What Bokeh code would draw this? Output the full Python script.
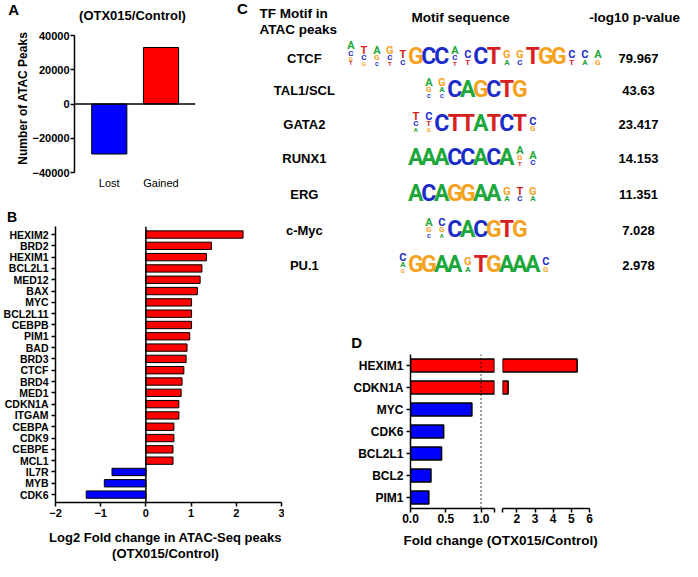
import math
import numpy as np
from bokeh.plotting import figure
from bokeh.models import Range1d, FixedTicker, Span, ColumnDataSource
from bokeh.layouts import row, column
from bokeh.core.properties import value
from bokeh.embed import file_html
from bokeh.resources import INLINE

# ---------------- data ----------------
a_groups = ["Lost", "Gained"]
a_peaks = [-29200, 33000]
a_yticks = [-40000, -20000, 0, 20000, 40000]

b_genes = ["HEXIM2", "BRD2", "HEXIM1", "BCL2L1", "MED12", "BAX", "MYC", "BCL2L11",
           "CEBPB", "PIM1", "BAD", "BRD3", "CTCF", "BRD4", "MED1", "CDKN1A", "ITGAM",
           "CEBPA", "CDK9", "CEBPE", "MCL1", "IL7R", "MYB", "CDK6"]
b_log2fc = [2.15, 1.45, 1.34, 1.24, 1.20, 1.14, 1.01, 1.01, 1.01, 0.97, 0.91, 0.89,
            0.84, 0.80, 0.78, 0.73, 0.73, 0.62, 0.62, 0.60, 0.60, -0.75, -0.92, -1.32]
b_xticks = [-2, -1, 0, 1, 2, 3]

c_tfs = ["CTCF", "TAL1/SCL", "GATA2", "RUNX1", "ERG", "c-Myc", "PU.1"]
c_pvalues = ["79.967", "43.63", "23.417", "14.153", "11.351", "7.028", "2.978"]
c_motif_ctcf = ["ACGT", "TCG", "AGC", "GCT", "TC", "G", "C", "C", "ACT", "CT",
                "C", "T", "GA", "GC", "T", "G", "G", "CT", "CA", "AG"]
c_motif_tal1 = ["AGC", "GAC", "C", "A", "G", "C", "T", "G"]
c_motif_gata2 = ["TCA", "CTG", "C", "T", "T", "A", "T", "C", "T", "CG"]
c_motif_runx1 = ["A", "A", "A", "C", "C", "A", "C", "A", "AGT", "AC"]
c_motif_erg = ["A", "C", "A", "G", "G", "A", "A", "GA", "TC", "GA"]
c_motif_myc = ["AGC", "CGA", "C", "A", "C", "G", "T", "G"]
c_motif_pu1 = ["CAG", "G", "G", "A", "A", "GA", "T", "G", "A", "A", "A", "CG"]
c_motifs = [c_motif_ctcf, c_motif_tal1, c_motif_gata2, c_motif_runx1,
            c_motif_erg, c_motif_myc, c_motif_pu1]

d_genes = ["HEXIM1", "CDKN1A", "MYC", "CDK6", "BCL2L1", "BCL2", "PIM1"]
d_fold = [5.32, 1.52, 0.87, 0.47, 0.44, 0.29, 0.26]
d_ticks_low = [0.0, 0.5, 1.0]
d_ticks_high = [2, 3, 4, 5, 6]

# ---------------- style ----------------
FONT = "Liberation Sans"
LOGO_FONT = "Roboto"
RED = "#FF0000"
BLUE = "#0000FF"
LOGO_COL = {"A": "#1EA83C", "C": "#1C2DC8", "G": "#F5A31F", "T": "#D81E1E"}
SX, SY = 0.977, 0.972  # reference px -> content px
TOP_H = 210            # height of the top band (A | C upper part)


def mk(w, h, fl, fr, ft, fb, xr, yr, **kw):
    p = figure(width=w, height=h, x_range=Range1d(*xr), y_range=Range1d(*yr),
               output_backend="svg", toolbar_location=None,
               min_border_left=fl, min_border_right=w - fr,
               min_border_top=ft, min_border_bottom=h - fb, **kw)
    p.frame_align = False
    p.outline_line_color = None
    p.grid.visible = False
    p.background_fill_color = "white"
    p.border_fill_color = "white"
    fx = lambda px: xr[0] + (px - fl) * (xr[1] - xr[0]) / (fr - fl)
    fy = lambda py: yr[1] + (py - ft) * (yr[0] - yr[1]) / (fb - ft)
    return p, fx, fy


def strip(w, h):
    return mk(w, h, 0, w, 0, h, (0, w), (0, h), x_axis_type=None, y_axis_type=None)


def style_axis(ax, size, bold=True, tick_out=4, standoff=2):
    ax.axis_line_color = "black"
    ax.axis_line_width = 1.5
    ax.major_tick_line_color = "black"
    ax.major_tick_line_width = 1.5
    ax.major_tick_in = 0
    ax.major_tick_out = tick_out
    ax.minor_tick_line_color = None
    ax.major_label_text_font = FONT
    ax.major_label_text_font_size = f"{size}px"
    ax.major_label_text_font_style = "bold" if bold else "normal"
    ax.major_label_text_color = "black"
    ax.major_label_standoff = standoff


def txt(p, fx, fy, pts, texts, size, bold=True, align="center", angle=0.0):
    p.text(x=[fx(a) for a, b in pts], y=[fy(b) for a, b in pts], text=texts,
           text_align=align, text_baseline="middle", angle=angle,
           text_font=value(FONT), text_font_size=f"{size}px",
           text_font_style="bold" if bold else "normal", text_color="black")


# ---------------- Panel A ----------------
pAt, fx, fy = strip(232, 28)
txt(pAt, fx, fy, [(7.8, 8.7)], ["A"], 15, align="left")
txt(pAt, fx, fy, [(132, 14.6)], ["(OTX015/Control)"], 13)

AH = TOP_H - 28
pAy, fx, fy = strip(29, AH)
txt(pAy, fx, fy, [(22.5, 69.7)], ["Number of ATAC Peaks"], 12, angle=math.pi / 2)

a_x = [i + 1 for i in range(len(a_groups))]
pA, fxA, fyA = mk(203, AH, 39, 166, 7, 144, (0.328, 2.667), (-40000, 40000))
srcA = ColumnDataSource(dict(x=a_x, top=a_peaks,
                             color=[BLUE if v < 0 else RED for v in a_peaks]))
pA.vbar(x="x", top="top", bottom=0, width=0.68, source=srcA, fill_color="color",
        line_color="black", line_width=1)
pA.add_layout(Span(location=0, dimension="width", line_color="black", line_width=1.5))
style_axis(pA.yaxis[0], 11, tick_out=4, standoff=1)
pA.yaxis.ticker = FixedTicker(ticks=a_yticks)
style_axis(pA.xaxis[0], 11, bold=False, tick_out=0, standoff=4)
pA.xaxis.axis_line_color = None
pA.xaxis.major_tick_line_color = None
pA.xaxis.ticker = FixedTicker(ticks=a_x)
pA.xaxis.major_label_overrides = {x: g for x, g in zip(a_x, a_groups)}

# ---------------- Panel B ----------------
pBt, fx, fy = strip(284, 14)
txt(pBt, fx, fy, [(6.5, 6.0)], ["B"], 14, align="left")

nb = len(b_genes)
b_y = [nb - 1 - i for i in range(nb)]
pB, fxB, fyB = mk(284, 300, 55, 281, 2, 278, (-2, 3), (-0.70, 23.71))
srcB = ColumnDataSource(dict(y=b_y, right=b_log2fc,
                             color=[BLUE if v < 0 else RED for v in b_log2fc]))
pB.hbar(y="y", right="right", left=0, height=0.65, source=srcB, fill_color="color",
        line_color="black", line_width=1)
pB.add_layout(Span(location=0, dimension="height", line_color="black", line_width=1.5))
style_axis(pB.xaxis[0], 11, tick_out=4, standoff=2)
pB.xaxis.ticker = FixedTicker(ticks=b_xticks)
style_axis(pB.yaxis[0], 10.5, tick_out=4, standoff=3)
pB.yaxis.ticker = FixedTicker(ticks=b_y)
pB.yaxis.major_label_overrides = {y: g for y, g in zip(b_y, b_genes)}

pBx, fx, fy = strip(284, 37)
txt(pBx, fx, fy, [(165, 12.5), (165, 28.5)],
    ["Log2 Fold change in ATAC-Seq peaks", "(OTX015/Control)"], 13)

# ---------------- Panel C ----------------
c_row_ref_y = [60, 93, 128, 163, 200, 237, 273]
COLW = 13.0
MID = 0.355  # cap centre above baseline, in em


def draw_c(p, fx, fy, rows, ox, oy):
    sx = lambda rx: SX * rx - ox
    sy = lambda ry: SY * ry - oy
    txt(p, fx, fy, [(sx(311), sy(c_row_ref_y[r])) for r in rows],
        [c_tfs[r] for r in rows], 13)
    txt(p, fx, fy, [(sx(653), sy(c_row_ref_y[r])) for r in rows],
        [c_pvalues[r] for r in rows], 13)
    xs, ys, ts, cs, fs = [], [], [], [], []
    for r in rows:
        motif = c_motifs[r]
        n = len(motif)
        x0 = sx(485) - n * COLW / 2
        base = sy(c_row_ref_y[r] + 6.5)
        for i, pos in enumerate(motif):
            xc = x0 + (i + 0.5) * COLW
            if len(pos) == 1:
                xs.append(fx(xc)); ys.append(fy(base - MID * 23)); ts.append(pos)
                cs.append(LOGO_COL[pos]); fs.append("23px")
            else:
                sizes = [11, 8, 6, 5][:len(pos)]
                y = base
                for ch, sz in zip(reversed(pos), reversed(sizes)):
                    xs.append(fx(xc)); ys.append(fy(y - MID * sz)); ts.append(ch)
                    cs.append(LOGO_COL[ch]); fs.append(f"{sz}px")
                    y -= sz * 0.711 + 0.6
    src = ColumnDataSource(dict(x=xs, y=ys, t=ts, c=cs, f=fs))
    p.text(x="x", y="y", text="t", source=src, text_color="c", text_font_size="f",
           text_align="center", text_baseline="middle",
           text_font=value(LOGO_FONT), text_font_style="bold")


ox1, oy1 = 232, 0
pC1, fx1, fy1 = strip(450, TOP_H)
txt(pC1, fx1, fy1, [(SX * 242 - ox1, SY * 8 - oy1)], ["C"], 15, align="left")
txt(pC1, fx1, fy1, [(SX * 265 - ox1, SY * 13 - oy1), (SX * 265 - ox1, SY * 30 - oy1)],
    ["TF Motif in", "ATAC peaks"], 13.5, align="left")
txt(pC1, fx1, fy1, [(SX * 471 - ox1, SY * 18 - oy1), (SX * 649 - ox1, SY * 18 - oy1)],
    ["Motif sequence", "-log10 p-value"], 13.5)
draw_c(pC1, fx1, fy1, [0, 1, 2, 3, 4], ox1, oy1)

C2H = 350 - TOP_H
pC2, fx2, fy2 = strip(398, C2H)
draw_c(pC2, fx2, fy2, [5, 6], 284, TOP_H)
txt(pC2, fx2, fy2, [(66.7, 341.9 - TOP_H)], ["D"], 15, align="left")

# ---------------- Panel D ----------------
nd = len(d_genes)
d_y = [nd - 1 - i for i in range(nd)]
D_LOW_END = 1.19
D_HIGH_START = 1.21
pD1, _, _ = mk(214, 180, 126, 210, 4, 158, (0, D_LOW_END), (-0.5, nd - 0.5))
srcD1 = ColumnDataSource(dict(y=d_y, right=list(np.minimum(d_fold, D_LOW_END)),
                              color=[RED if v > 1 else BLUE for v in d_fold]))
pD1.hbar(y="y", right="right", left=0, height=0.6, source=srcD1, fill_color="color",
         line_color="black", line_width=1.5)
pD1.add_layout(Span(location=1.0, dimension="height", line_color="black",
                    line_width=1.5, line_dash="1 3"))
style_axis(pD1.xaxis[0], 12, tick_out=4, standoff=1)
pD1.xaxis.ticker = FixedTicker(ticks=d_ticks_low + [D_LOW_END])
ov = {t: f"{t:.1f}" for t in d_ticks_low}
ov[D_LOW_END] = ""
pD1.xaxis.major_label_overrides = ov
style_axis(pD1.yaxis[0], 12, tick_out=4, standoff=3)
pD1.yaxis.ticker = FixedTicker(ticks=d_y)
pD1.yaxis.major_label_overrides = {y: g for y, g in zip(d_y, d_genes)}

pD2, _, _ = mk(184, 180, 4, 91, 4, 158, (D_HIGH_START, 6), (-0.5, nd - 0.5),
               y_axis_type=None)
hi = [(y, v) for y, v in zip(d_y, d_fold) if v > D_HIGH_START]
srcD2 = ColumnDataSource(dict(y=[h[0] for h in hi], right=[h[1] for h in hi]))
pD2.hbar(y="y", right="right", left=D_HIGH_START, height=0.6, source=srcD2,
         fill_color=RED, line_color="black", line_width=1.5)
style_axis(pD2.xaxis[0], 12, tick_out=4, standoff=1)
pD2.xaxis.ticker = FixedTicker(ticks=[D_HIGH_START] + d_ticks_high)
ov2 = {t: str(t) for t in d_ticks_high}
ov2[D_HIGH_START] = ""
pD2.xaxis.major_label_overrides = ov2

pDT, fx, fy = strip(398, 31)
txt(pDT, fx, fy, [(SX * 512 - 284, SY * 556 - 530)], ["Fold change (OTX015/Control)"], 13.5)

layout = column(
    row(column(pAt, row(pAy, pA)), pC1),
    row(column(pBt, pB, pBx), column(pC2, row(pD1, pD2), pDT)),
)

open("out.html", "w").write(file_html(layout, INLINE))
